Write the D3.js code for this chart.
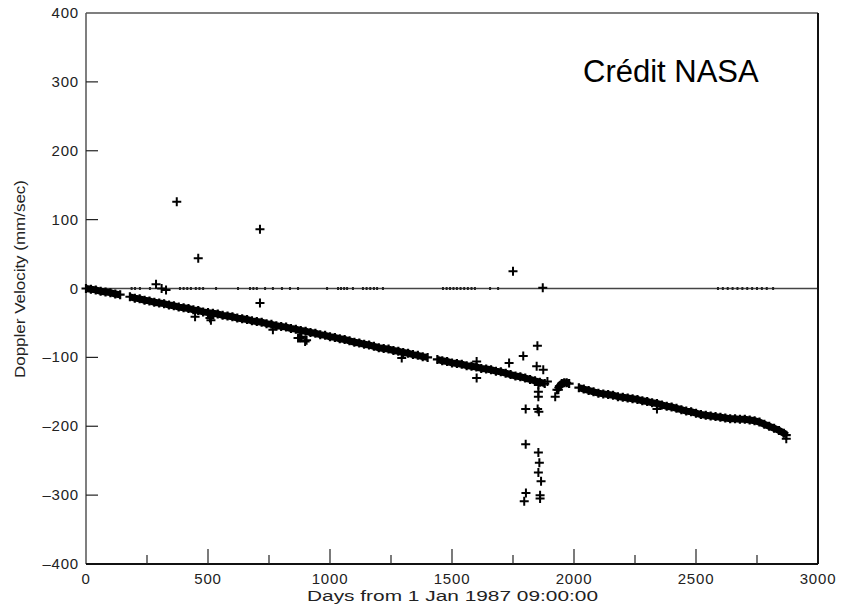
<!DOCTYPE html>
<html>
<head>
<meta charset="utf-8">
<script src="https://cdn.jsdelivr.net/npm/d3@7"></script>
<style>
  body { margin: 0; background: #fff; }
  text { font-family: "Liberation Sans", Arial, sans-serif; }
</style>
</head>
<body>
<div id="chart"></div>
<script>
// Main velocity band: [days, mm/sec]
const bandData = [
  [0, 0], [20, -1], [40, -2], [60, -4], [80, -5], [100, -6], [120, -8], [140, -9],
  [180, -12], [200, -14], [220, -15], [240, -17], [260, -18], [280, -20], [300, -21],
  [320, -22], [340, -24], [360, -25], [380, -27], [400, -28], [420, -29], [440, -31],
  [460, -32], [480, -34], [500, -35], [520, -36], [540, -37], [560, -39], [580, -40],
  [600, -41], [620, -43], [640, -44], [660, -45], [680, -47], [700, -48], [720, -49],
  [740, -51], [760, -52], [780, -54], [800, -55], [820, -56], [840, -58], [860, -59],
  [880, -61], [900, -62], [920, -64], [940, -65], [960, -67], [980, -68], [1000, -70],
  [1020, -71], [1040, -73], [1060, -74], [1080, -76], [1100, -78], [1120, -79],
  [1140, -81], [1160, -82], [1180, -84], [1200, -86], [1220, -87], [1240, -88],
  [1260, -90], [1280, -91], [1300, -93], [1320, -94], [1340, -96], [1360, -97],
  [1380, -99], [1400, -100], [1440, -103], [1460, -105], [1480, -106], [1500, -108],
  [1520, -109], [1540, -110], [1560, -112], [1580, -113], [1600, -114], [1620, -116],
  [1640, -117], [1660, -118], [1680, -120], [1700, -121], [1720, -123], [1740, -125],
  [1760, -127], [1780, -128], [1800, -130], [1820, -132], [1840, -134], [1860, -136],
  [1880, -138], [1930, -147], [1940, -142], [1950, -138], [1960, -137], [1970, -137],
  [1980, -138], [2020, -144], [2040, -146], [2060, -148], [2080, -150], [2100, -152],
  [2120, -153], [2140, -154], [2160, -155], [2180, -157], [2200, -158], [2220, -159],
  [2240, -160], [2260, -161], [2280, -163], [2300, -164], [2320, -166], [2340, -167],
  [2360, -169], [2380, -171], [2400, -172], [2420, -174], [2440, -176], [2460, -178],
  [2480, -179], [2500, -181], [2520, -183], [2540, -184], [2560, -185], [2580, -186],
  [2600, -187], [2620, -188], [2640, -189], [2660, -189], [2680, -190], [2700, -190],
  [2720, -191], [2740, -192], [2760, -194], [2780, -197], [2800, -200], [2820, -203],
  [2840, -206], [2860, -210], [2870, -213]
];

// Scattered points away from the band
const outlierData = [
  [287, 6], [310, 0], [328, -2], [372, 126], [460, 44], [713, 86], [713, -21],
  [447, -41], [508, -43], [520, -38], [512, -46], [766, -60], [869, -72], [883, -70],
  [904, -75], [877, -72], [898, -77], [1294, -101], [1601, -106], [1601, -130],
  [1750, 25], [1872, 1], [1850, -83], [1792, -98], [1734, -108], [1847, -113],
  [1874, -118], [1891, -135], [1854, -140], [1854, -150], [1854, -157], [1802, -175],
  [1851, -175], [1856, -179], [1802, -226], [1854, -238], [1858, -253], [1854, -267],
  [1865, -280], [1803, -297], [1796, -309], [1861, -300], [1861, -305], [1936, -147],
  [1923, -157], [2340, -175], [2870, -218]
];

// Tiny points sitting on the zero line (days)
const zeroDays = [
  187, 201, 221, 262, 385, 400, 415, 430, 450, 465, 480, 533, 623, 672, 686, 700,
  734, 766, 803, 836, 869, 988, 1033, 1045, 1058, 1070, 1094, 1135, 1150, 1165,
  1180, 1193, 1217, 1463, 1478, 1492, 1506, 1520, 1535, 1550, 1565, 1580, 1594,
  1656, 1689, 2590, 2610, 2630, 2650, 2670, 2690, 2710, 2730, 2750, 2770, 2790, 2816
];

const xTicks = [0, 500, 1000, 1500, 2000, 2500, 3000];
const xMinorTicks = [250, 750, 1250, 1750, 2250, 2750];
const yTicks = [400, 300, 200, 100, 0, -100, -200, -300, -400];

const width = 845;
const height = 609;
const margin = { left: 86, right: 27, top: 13, bottom: 45 };

const svg = d3.select('#chart')
  .append('svg')
  .attr('width', width)
  .attr('height', height);

const x = d3.scaleLinear()
  .domain([0, 3000])
  .range([margin.left, width - margin.right]);

const y = d3.scaleLinear()
  .domain([-400, 400])
  .range([height - margin.bottom, margin.top]);

// Zero line
svg.append('line')
  .attr('x1', x(0))
  .attr('x2', x(3000))
  .attr('y1', y(0))
  .attr('y2', y(0))
  .style('stroke', '#444')
  .style('stroke-width', 1.5);

svg.selectAll('.zero-dot')
  .data(zeroDays)
  .enter()
  .append('rect')
  .attr('class', 'zero-dot')
  .attr('x', d => x(d) - 1)
  .attr('y', y(0) - 1.5)
  .attr('width', 2)
  .attr('height', 3)
  .style('fill', '#222');

// Frame: left/top lighter, right/bottom darker
svg.append('line')
  .attr('x1', x(0)).attr('x2', x(0))
  .attr('y1', y(400)).attr('y2', y(-400))
  .style('stroke', '#555').style('stroke-width', 1.5);
svg.append('line')
  .attr('x1', x(0)).attr('x2', x(3000))
  .attr('y1', y(400)).attr('y2', y(400))
  .style('stroke', '#555').style('stroke-width', 1.5);
svg.append('line')
  .attr('x1', x(3000)).attr('x2', x(3000))
  .attr('y1', y(400)).attr('y2', y(-400))
  .style('stroke', '#111').style('stroke-width', 2);
svg.append('line')
  .attr('x1', x(0)).attr('x2', x(3000))
  .attr('y1', y(-400)).attr('y2', y(-400))
  .style('stroke', '#111').style('stroke-width', 2);

// X ticks (pointing inward)
svg.selectAll('.x-major')
  .data(xTicks.slice(1, -1))
  .enter()
  .append('line')
  .attr('x1', d => x(d)).attr('x2', d => x(d))
  .attr('y1', y(-400)).attr('y2', y(-400) - 15)
  .style('stroke', '#222').style('stroke-width', 1.2);

svg.selectAll('.x-minor')
  .data(xMinorTicks)
  .enter()
  .append('line')
  .attr('x1', d => x(d)).attr('x2', d => x(d))
  .attr('y1', y(-400)).attr('y2', y(-400) - 9)
  .style('stroke', '#222').style('stroke-width', 1.2);

svg.selectAll('.x-label')
  .data(xTicks)
  .enter()
  .append('text')
  .attr('x', d => x(d))
  .attr('y', y(-400) + 20)
  .attr('text-anchor', 'middle')
  .style('font-size', '15px')
  .style('letter-spacing', '0.8px')
  .style('fill', '#222')
  .text(d => d);

// Y ticks
svg.selectAll('.y-major')
  .data(yTicks.slice(1, -1))
  .enter()
  .append('line')
  .attr('x1', x(0)).attr('x2', x(0) + 12)
  .attr('y1', d => y(d)).attr('y2', d => y(d))
  .style('stroke', '#222').style('stroke-width', 1.2);

svg.selectAll('.y-label')
  .data(yTicks)
  .enter()
  .append('text')
  .attr('x', x(0) - 7)
  .attr('y', d => y(d) + 5)
  .attr('text-anchor', 'end')
  .style('font-size', '15px')
  .style('letter-spacing', '0.8px')
  .style('fill', '#222')
  .text(d => d < 0 ? '\u2013' + Math.abs(d) : d);

// Axis titles
svg.append('text')
  .attr('x', 307)
  .attr('y', 601)
  .attr('textLength', 291)
  .attr('lengthAdjust', 'spacingAndGlyphs')
  .style('font-size', '14px')
  .style('fill', '#222')
  .text('Days from 1 Jan 1987  09:00:00');

svg.append('text')
  .attr('transform', 'translate(25,378) rotate(-90)')
  .attr('textLength', 198)
  .attr('lengthAdjust', 'spacingAndGlyphs')
  .style('font-size', '14px')
  .style('fill', '#222')
  .text('Doppler Velocity (mm/sec)');

// Solid core of the band, broken where data is missing
const segments = [];
bandData.forEach((d, i) => {
  if (i === 0 || d[0] - bandData[i - 1][0] > 25) segments.push([]);
  segments[segments.length - 1].push(d);
});

const line = d3.line()
  .x(d => x(d[0]))
  .y(d => y(d[1]));

svg.append('g')
  .selectAll('path')
  .data(segments)
  .enter()
  .append('path')
  .attr('d', line)
  .style('fill', 'none')
  .style('stroke', '#000')
  .style('stroke-width', 7);

// Plus markers
const plus = 'M-4.5,0H4.5M0,-4.5V4.5';

svg.append('g')
  .selectAll('path')
  .data(bandData)
  .enter()
  .append('path')
  .attr('d', plus)
  .attr('transform', d => 'translate(' + x(d[0]) + ',' + y(d[1]) + ')')
  .style('stroke', '#000')
  .style('stroke-width', 2.2)
  .style('fill', 'none');

svg.append('g')
  .selectAll('path')
  .data(outlierData)
  .enter()
  .append('path')
  .attr('d', plus)
  .attr('transform', d => 'translate(' + x(d[0]) + ',' + y(d[1]) + ')')
  .style('stroke', '#000')
  .style('stroke-width', 2)
  .style('fill', 'none');

// Credit
svg.append('text')
  .attr('x', 583)
  .attr('y', 82)
  .style('font-size', '31px')
  .style('fill', '#000')
  .text('Crédit NASA');
</script>
</body>
</html>
